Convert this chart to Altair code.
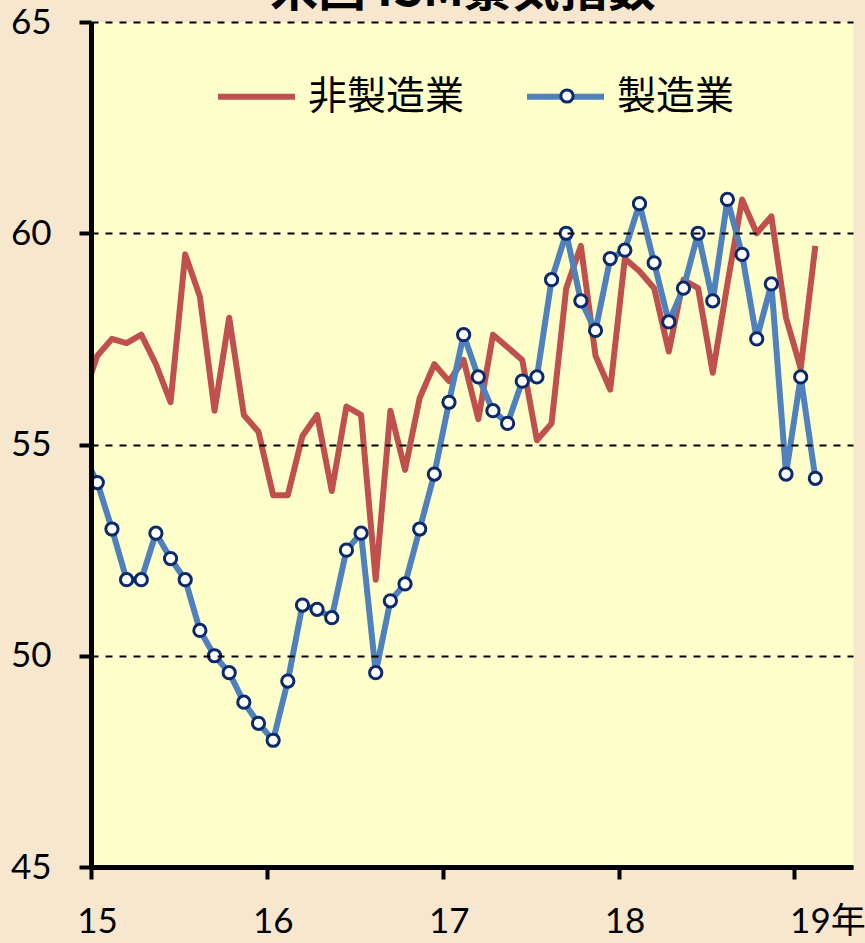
import altair as alt
import pandas as pd

# Month index: -1 = Dec 2014, 0 = Jan 2015 ... 49 = Feb 2019
months = list(range(-1, 50))

# ISM non-manufacturing (非製造業)
nonmfg = [56.1,
          57.1, 57.5, 57.4, 57.6, 56.9, 56.0, 59.5, 58.5, 55.8, 58.0, 55.7, 55.3,
          53.8, 53.8, 55.2, 55.7, 53.9, 55.9, 55.7, 51.8, 55.8, 54.4, 56.1, 56.9,
          56.5, 57.0, 55.6, 57.6, 57.3, 57.0, 55.1, 55.5, 58.7, 59.7, 57.1, 56.3,
          59.4, 59.1, 58.7, 57.2, 58.9, 58.7, 56.7, 58.8, 60.8, 60.0, 60.4, 58.0,
          56.8, 59.7]

# ISM manufacturing (製造業)
mfg = [54.8,
       54.1, 53.0, 51.8, 51.8, 52.9, 52.3, 51.8, 50.6, 50.0, 49.6, 48.9, 48.4,
       48.0, 49.4, 51.2, 51.1, 50.9, 52.5, 52.9, 49.6, 51.3, 51.7, 53.0, 54.3,
       56.0, 57.6, 56.6, 55.8, 55.5, 56.5, 56.6, 58.9, 60.0, 58.4, 57.7, 59.4,
       59.6, 60.7, 59.3, 57.9, 58.7, 60.0, 58.4, 60.8, 59.5, 57.5, 58.8, 54.3,
       56.6, 54.2]

series_names = ["非製造業", "製造業"]
year_ticks = [0, 12, 24, 36, 48]
y_ticks = [45, 50, 55, 60, 65]
title_text = "米国 ISM景気指数"

rows = []
for m, a, b in zip(months, nonmfg, mfg):
    rows.append({"x": m + 0.43, "series": series_names[0], "v": a, "mk": series_names[1]})
    rows.append({"x": m + 0.43, "series": series_names[1], "v": b, "mk": series_names[1]})
df = pd.DataFrame(rows)

RED = "#C0504D"
BLUE = "#4F81BD"
NAVY = "#0B2A6B"
LABEL_FONT = "Lato, Noto Sans CJK JP"
CJK_FONT = "Noto Sans CJK JP"

x_enc = alt.X(
    "x:Q",
    scale=alt.Scale(domain=[0, 52], nice=False, zero=False),
    axis=alt.Axis(
        values=year_ticks,
        labelExpr="datum.value == 48 ? '19年' : toString(15 + datum.value / 12)",
        labelOffset={"condition": {"test": "datum.value == 48", "value": 33}, "value": 6},
        labelFlush=False,
        labelOverlap=False,
        grid=False,
        tickSize=12,
        tickWidth=4,
        tickColor="black",
        domainWidth=5,
        domainColor="black",
        labelFontSize=35,
        labelFont=LABEL_FONT,
        labelColor="black",
        labelPadding=25,
        title=None,
        zindex=1,
    ),
)

y_enc = alt.Y(
    "v:Q",
    scale=alt.Scale(domain=[45, 65], nice=False, zero=False),
    axis=alt.Axis(
        values=y_ticks,
        grid=True,
        gridDash=[7, 7],
        gridColor="black",
        gridWidth=2,
        gridOpacity=1,
        tickSize=12,
        tickWidth=4,
        tickColor="black",
        domainWidth=5,
        domainColor="black",
        labelFontSize=35,
        labelFont=LABEL_FONT,
        labelColor="black",
        labelPadding=28,
        title=None,
        zindex=1,
    ),
)

color_enc = alt.Color(
    "series:N",
    scale=alt.Scale(domain=series_names, range=[RED, BLUE]),
    legend=alt.Legend(
        orient="none",
        legendX=124,
        legendY=33,
        direction="horizontal",
        title=None,
        symbolType="stroke",
        symbolSize=5929,
        symbolStrokeWidth=6,
        labelFontSize=39,
        labelFont=CJK_FONT,
        labelColor="black",
        labelOffset=10,
        columnPadding=50,
        padding=0,
        zindex=0,
    ),
)

base = alt.Chart(df)

red_line = base.transform_filter(
    alt.datum.series == series_names[0]
).mark_line(strokeWidth=6, strokeJoin="round", clip=True).encode(
    x=x_enc, y=y_enc, color=color_enc
)

blue_line = base.transform_filter(
    alt.datum.series == series_names[1]
).mark_line(strokeWidth=6, strokeJoin="round", clip=True).encode(
    x=x_enc, y=y_enc, color=color_enc
)

points = base.transform_filter(
    (alt.datum.series == series_names[1]) & (alt.datum.x > 0)
).mark_point(
    filled=True, fill="white", stroke=NAVY, strokeWidth=3, size=150, opacity=1, clip=True
).encode(
    x=x_enc,
    y=y_enc,
    shape=alt.Shape(
        "mk:N",
        scale=alt.Scale(range=["circle"]),
        legend=alt.Legend(
            orient="none",
            legendX=468,
            legendY=66,
            title=None,
            labelExpr="''",
            padding=0,
            symbolSize=150,
            symbolStrokeWidth=3,
            symbolOpacity=1,
            zindex=1,
        ),
    ),
)

title = alt.Chart(alt.Data(values=[{"t": title_text}])).mark_text(
    fontSize=48, fontWeight="bold", font=CJK_FONT, baseline="alphabetic",
    align="center", color="black"
).encode(text="t:N", x=alt.value(372), y=alt.value(-16))

chart = alt.layer(red_line, blue_line, points, title).properties(
    width=762,
    height=845,
    padding={"left": 91, "top": 22, "right": 12, "bottom": 76},
    autosize=alt.AutoSizeParams(type="none"),
    background="#F6E7CE",
).configure_view(fill="#FFFFCC", stroke="transparent")

chart.save("out.html", embed_options={"renderer": "svg", "actions": False})
